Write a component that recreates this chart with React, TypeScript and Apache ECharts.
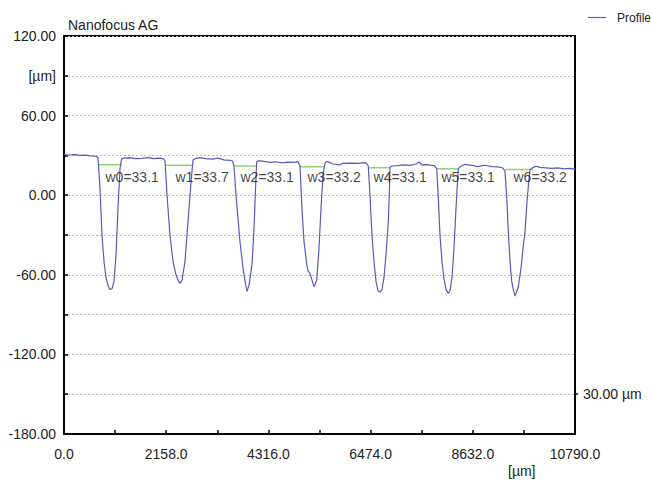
import React, { useEffect, useRef } from "react";
import * as echarts from "echarts";

const profileX = [
  0, 127, 232, 338, 443, 549, 676,
  718, 760, 802, 845, 887, 929, 971, 1014, 1056, 1098, 1140, 1182, 1218,
  1267, 1394, 1520, 1647, 1774, 1900, 2027, 2101,
  2133, 2175, 2238, 2302, 2365, 2407, 2449, 2492, 2555, 2618, 2682, 2724,
  2787, 2872, 2998, 3125, 3252, 3378, 3505, 3558,
  3590, 3632, 3716, 3780, 3822, 3864, 3906, 3970, 4012, 4044, 4069,
  4117, 4223, 4350, 4476, 4603, 4730, 4856, 4941,
  4983, 5025, 5068, 5125, 5152, 5194, 5237, 5279, 5336, 5384, 5427, 5469, 5511,
  5553, 5680, 5828, 5870, 6039, 6208, 6377,
  6425, 6461, 6503, 6546, 6588, 6630, 6672, 6715, 6757, 6799, 6848, 6873, 6883,
  6926, 7052, 7179, 7306, 7432, 7496, 7559, 7644, 7728, 7813,
  7870, 7908, 7939, 7981, 8024, 8066, 8115, 8151, 8193, 8235, 8277, 8309, 8326,
  8362, 8467, 8615, 8742, 8889, 9037, 9164, 9270,
  9312, 9354, 9382, 9418, 9453, 9481, 9523, 9565, 9593, 9650, 9692, 9734, 9776, 9818, 9840, 9910,
  9966, 10051, 10177, 10304, 10430, 10557, 10684, 10790,
];
const profileY = [
  30.5, 30.3, 30.6, 30.0, 30.2, 29.6, 29.4,
  28.5, 5, -30, -50, -62, -68, -71, -70.5, -65, -45, -10, 20, 27.5,
  28, 28.2, 27.5, 27.8, 28.3, 27.6, 28, 27.3,
  26, 0, -30, -50, -60, -64, -66.5, -64, -50, -20, 10, 26.5,
  27.8, 28.3, 27.6, 27.2, 27.9, 26.6, 26.3, 25.8,
  22, 0, -35, -55, -65, -72.5, -68, -52, -25, 5, 25,
  26, 25.5, 24.7, 25.2, 24.4, 25, 24.7, 25.3,
  22, -10, -35, -52, -57, -59, -64, -69, -64, -40, -10, 15, 24,
  25.5, 23.5, 22.8, 24, 24.2, 24, 24.5,
  22, 0, -30, -50, -65, -72, -73, -71, -62, -45, -20, 5, 21,
  22, 22.3, 22.8, 22.5, 23.5, 25, 22.8, 23, 22.6, 22.4,
  20, -5, -30, -50, -63, -71, -74, -72, -62, -40, -10, 10, 20,
  21.5, 23.3, 22.5, 21.5, 22.6, 21.5, 21.4, 20.5,
  18, -5, -28, -50, -65, -70, -76, -72, -69, -55, -40, -28, -5, 12, 19, 21,
  21.8, 21, 20.6, 20.2, 20.6, 19.8, 20.2, 19.6,
];

const grooveStart = [718, 2133, 3590, 4983, 6425, 7870, 9312];
const grooveEnd = [1218, 2724, 4069, 5511, 6883, 8326, 9910];
const grooveLevel = [23.0, 22.5, 22.0, 21.4, 20.6, 20.0, 19.4];

const widthLabels = ["w0=33.1", "w1=33.7", "w2=33.1", "w3=33.2", "w4=33.1", "w5=33.1", "w6=33.2"];
const labelX = [866, 2344, 3716, 5131, 6525, 7960, 9481];
const labelY = [14, 14, 14, 14, 14, 14, 14];

const FONT = "'Liberation Sans', Arial, sans-serif";
const BLUE = "#5a5ab8";

export default function App() {
  const ref = useRef<HTMLDivElement>(null);
  useEffect(() => {
    if (!ref.current) return;
    const chart = echarts.init(ref.current, undefined, { renderer: "svg" });
    const profileData = profileX.map((x, i) => [x, profileY[i]]);
    const greenSeries = grooveStart.map((s, i) => ({
      name: "Reference" + i,
      type: "line",
      data: [
        [s, grooveLevel[i]],
        [grooveEnd[i], grooveLevel[i]],
      ],
      showSymbol: false,
      symbol: "none",
      lineStyle: { color: "#8fd46f", width: 1.5 },
      z: 1,
    }));
    const labelData = labelX.map((x, i) => ({ value: [x, labelY[i]], name: widthLabels[i] }));
    chart.setOption({
      animation: false,
      backgroundColor: "#fff",
      textStyle: { fontFamily: FONT },
      title: {
        text: "Nanofocus AG",
        left: 63,
        top: 13,
        textStyle: { fontSize: 14, fontWeight: "normal", color: "#222", fontFamily: FONT },
      },
      grid: {
        left: 64,
        right: 76,
        top: 36,
        bottom: 47,
        show: true,
        borderColor: "#000",
        borderWidth: 2,
        backgroundColor: "transparent",
      },
      xAxis: {
        type: "value",
        min: 0,
        max: 10790,
        interval: 1079,
        axisLine: { show: true, onZero: false, lineStyle: { color: "#000", width: 2 } },
        axisTick: { show: true, inside: true, length: 4, lineStyle: { color: "#000", width: 1.5 } },
        splitLine: { show: false },
        axisLabel: {
          margin: 13,
          fontSize: 14,
          color: "#222",
          fontFamily: FONT,
          formatter: (v: number) => (Math.round(v / 1079) % 2 === 0 ? v.toFixed(1) : ""),
        },
      },
      yAxis: [
        {
          type: "value",
          min: -180,
          max: 120,
          interval: 30,
          axisLine: { show: true, onZero: false, lineStyle: { color: "#000", width: 2 } },
          axisTick: { show: true, inside: true, length: 4, lineStyle: { color: "#000", width: 1.5 } },
          splitLine: { show: true, lineStyle: { color: "#b8b8b8", type: [2, 2], width: 1 } },
          axisLabel: {
            margin: 8,
            fontSize: 14,
            color: "#222",
            fontFamily: FONT,
            formatter: (v: number) => {
              const r = Math.round(v);
              if (r === 90) return "[µm]";
              if (r % 60 === 0) return r.toFixed(2);
              return "";
            },
          },
        },
        {
          type: "value",
          position: "right",
          min: -180,
          max: 120,
          interval: 30,
          axisLine: { show: true, onZero: false, lineStyle: { color: "#000", width: 2 } },
          axisTick: { show: true, length: 3, customValues: [-150], lineStyle: { color: "#000", width: 1.5 } },
          splitLine: { show: false },
          axisLabel: {
            margin: 8,
            fontSize: 14,
            color: "#222",
            fontFamily: FONT,
            customValues: [-150],
            formatter: () => "30.00 µm",
          },
        },
      ],
      graphic: [
        {
          type: "text",
          left: 508,
          top: 464,
          style: { text: "[µm]", fontSize: 14, fill: "#222", fontFamily: FONT },
        },
        {
          type: "line",
          shape: { x1: 588, y1: 17.5, x2: 606, y2: 17.5 },
          style: { stroke: BLUE, lineWidth: 1.2 },
        },
        {
          type: "text",
          x: 617,
          y: 17.5,
          style: {
            text: "Profile",
            fontSize: 12,
            fill: "#222",
            fontFamily: FONT,
            verticalAlign: "middle",
            align: "left",
          },
        },
      ],
      series: [
        ...greenSeries,
        {
          name: "Profile",
          type: "line",
          data: profileData,
          showSymbol: false,
          symbol: "none",
          lineStyle: { color: BLUE, width: 1.2 },
          itemStyle: { color: BLUE },
          z: 2,
        },
        {
          name: "Widths",
          type: "scatter",
          data: labelData,
          symbolSize: 1,
          itemStyle: { color: "transparent" },
          label: {
            show: true,
            position: "right",
            distance: 0,
            formatter: (p: any) => p.name,
            fontSize: 14,
            color: "#111",
            fontFamily: FONT,
          },
          z: 3,
        },
      ],
    });
    return () => chart.dispose();
  }, []);
  return <div ref={ref} style={{ width: 651, height: 481, position: "absolute", left: 0, top: 0 }} />;
}
